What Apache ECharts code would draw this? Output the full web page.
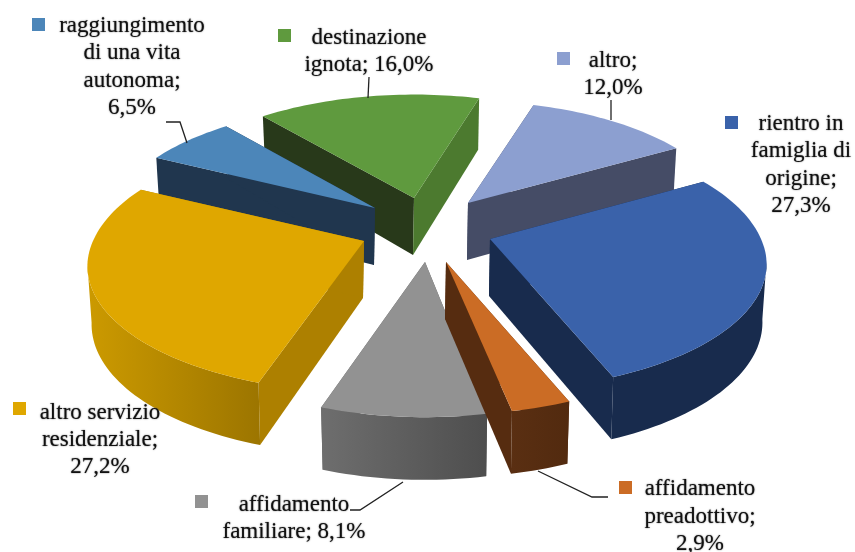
<!DOCTYPE html>
<html><head><meta charset="utf-8">
<style>html,body{margin:0;padding:0;background:#fff}#c{width:855px;height:552px}</style>
<script src="https://cdn.jsdelivr.net/npm/echarts@6/dist/echarts.min.js"></script>
</head><body><div id="c"></div>
<script>
// data
const categories = ['rientro in famiglia di origine','affidamento preadottivo','affidamento familiare','altro servizio residenziale','raggiungimento di una vita autonoma','destinazione ignota','altro'];
const values = [27.3, 2.9, 8.1, 27.2, 6.5, 16.0, 12.0];
const labelLines = [
  ['rientro in','famiglia di','origine;','27,3%'],
  ['affidamento','preadottivo;','2,9%'],
  ['affidamento','familiare; 8,1%'],
  ['altro servizio','residenziale;','27,2%'],
  ['raggiungimento','di una vita','autonoma;','6,5%'],
  ['destinazione','ignota; 16,0%'],
  ['altro;','12,0%']
];
// styles
const topColors  = ['#3A62AA','#CB6C25','#929292','#DFA700','#4C86B9','#5F9A3E','#8C9FD0'];
const startWall  = ['#182B4D','#562C10','#5E5E5E','#AD8000','#20364E','#28391A','#454C66'];
const endWall    = ['#182B4D','#562C10','#5E5E5E','#AD8000','#20364E','#4C7A2F','#454C66'];
const outerWall  = [['#182B4D','#182B4D'],['#5A2F12','#522A0F'],['#6E6E6E','#4E4E4E'],['#CC9A00','#9C7500'],['#20364E','#20364E'],['#4C7A2F','#4C7A2F'],['#454C66','#454C66']];
const drawRank   = [3,6,5,4,2,1,0];
// layout
const apex = [[490,239],[446,262],[425,262],[364,241],[375,208],[414,198],[468,203]];
const sliceTurn  = [-0.5,-0.5,0,0,0,-0.4,0];
const sliceScale = [1,1,0.985,1,0.98,0.985,0.97];
const frontSquash = [0.96,0.97,1,0.96,1,1,1];
const keyBox = [[725,116],[619,481],[195,495],[13,402],[32,18],[278,29],[557,52]];
const labelCenter = [801,700,294,100,132,369,613];
const labelFirstY = [124,489,505,413,26,38,61];
const labelStep = [27.3,27.5,27,27,27.3,27,27];
const leaders = [
  [],
  [[608,497],[592,497],[538,471]],
  [[350,510],[360,510],[403,482]],
  [],
  [[166,122],[180,122],[187,143]],
  [[369,77],[368,98]],
  [[611,100],[611,120]]
];
const R = 271, tilt = 0.465, persp = 0.2, startDeg = 60.5, depth = 57;
const rad = d => d * Math.PI / 180;
const total = values.reduce((a,b)=>a+b,0);
function project(i, deg){
  const s = Math.sin(rad(deg)), c = Math.cos(rad(deg)), p = sliceScale[i]*R/(1+persp*c);
  const dy = -c*tilt*p;
  return [apex[i][0]+s*p, apex[i][1]+(dy>0 ? dy*frontSquash[i] : dy)];
}
function drop(i, deg, pt){
  const d = depth*(1-0.1*Math.cos(rad(deg)));
  return [apex[i][0]+(pt[0]-apex[i][0])*0.985, pt[1]+d];
}
function renderItem(params, api){
  const i = params.dataIndex;
  let acc = 0;
  for(let k=0;k<i;k++) acc += values[k];
  const a0 = startDeg + sliceTurn[i] + acc/total*360, a1 = a0 + api.value(0)/total*360;
  const n = Math.max(8, Math.ceil((a1-a0)/1.5));
  const arc = [], low = [], frontUp = [], frontLow = [];
  for(let k=0;k<=n;k++){
    const d = a0+(a1-a0)*k/n, p = project(i,d), q = drop(i,d,p);
    arc.push(p); low.push(q);
    const m = ((d%360)+360)%360;
    if(m>=100 && m<=260){ frontUp.push(p); frontLow.push(q); }
  }
  const A = apex[i], B = [A[0]-1, A[1]+depth];
  const z = drawRank[i]*10;
  const face = (pts, fill, dz) => ({type:'polygon', z2:z+dz, shape:{points:pts}, style:{fill:fill, stroke:null}});
  const grad = {type:'linear',x:0,y:0,x2:1,y2:0,colorStops:[{offset:0,color:outerWall[i][0]},{offset:1,color:outerWall[i][1]}]};
  const kids = [
    face([A,arc[0],low[0],B], startWall[i], 0),
    face([A,arc[n],low[n],B], endWall[i], 1)
  ];
  if(frontUp.length>1) kids.push(face(frontUp.concat(frontLow.slice().reverse()), grad, 2));
  kids.push(face([A].concat(arc), topColors[i], 3));
  return {type:'group', children:kids};
}
const graphics = [];
categories.forEach((c,i)=>{
  graphics.push({type:'rect', silent:true, shape:{x:keyBox[i][0],y:keyBox[i][1],width:13,height:13}, style:{fill:topColors[i]}, z:20});
  labelLines[i].forEach((t,j)=>{
    graphics.push({type:'text', silent:true, z:20, style:{text:t, x:labelCenter[i], y:labelFirstY[i]+j*labelStep[i], align:'center', verticalAlign:'middle', font:'23px "Liberation Serif"', fill:'#111', textShadowBlur:1.5, textShadowColor:'#555'}});
  });
  if(leaders[i].length) graphics.push({type:'polyline', silent:true, z:20, shape:{points:leaders[i]}, style:{stroke:'#222', lineWidth:1.3, fill:null}});
});
const chart = echarts.init(document.getElementById('c'));
chart.setOption({
  animation:false,
  backgroundColor:'#fff',
  graphic:graphics,
  series:[{type:'custom', coordinateSystem:'none', silent:true, clip:false, renderItem:renderItem,
    data:values.map((v,i)=>({name:categories[i],value:[v]}))}]
});
</script></body></html>
